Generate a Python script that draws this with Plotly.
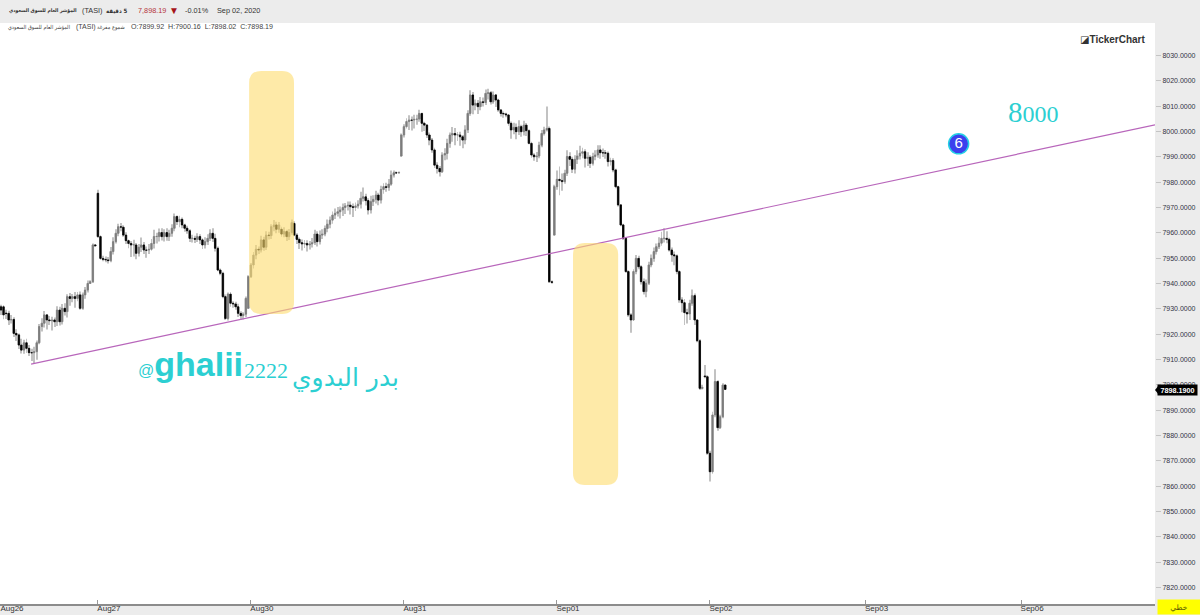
"""TASI 5 minute candles with trend line, recreated in Plotly"""

import numpy as np
import plotly.graph_objects as go

OPENS = [
    7930.8,7930.8,7928.3,7928.2,7925.6,7925.8,7920.3,7919.7,7915.7,7913.7,
    7916.6,7914.4,7912.7,7912.7,7913.1,7916.6,7923.0,7924.3,7927.6,7925.6,
    7925.3,7925.6,7924.9,7929.5,7924.9,7930.2,7928.9,7934.8,7934.1,7934.8,
    7934.1,7935.5,7930.2,7935.5,7937.4,7940.0,7940.7,7955.2,7975.6,7958.5,
    7949.9,7949.5,7949.3,7949.0,7952.6,7956.5,7959.8,7962.4,7962.2,7959.1,
    7956.9,7955.8,7955.2,7955.2,7951.9,7954.3,7955.2,7953.2,7953.2,7953.5,
    7955.8,7958.5,7958.5,7960.1,7958.5,7960.1,7958.5,7959.8,7961.8,7966.4,
    7964.4,7965.3,7963.1,7961.8,7960.8,7957.8,7957.8,7957.4,7958.5,7957.2,
    7955.2,7956.5,7957.8,7959.8,7957.8,7953.9,7945.3,7944.0,7934.8,7926.2,
    7935.8,7932.2,7931.9,7930.8,7928.2,7927.3,7927.9,7930.2,7942.7,7947.3,
    7951.2,7953.5,7953.2,7957.2,7954.3,7959.1,7958.9,7962.4,7963.1,7961.4,
    7961.4,7959.5,7960.5,7958.5,7960.1,7963.7,7959.1,7957.4,7956.1,7955.6,
    7955.8,7955.2,7955.6,7956.1,7959.5,7956.5,7959.1,7959.5,7961.7,7963.4,
    7965.0,7967.0,7967.7,7968.3,7969.0,7970.0,7970.6,7970.9,7970.3,7970.0,
    7970.6,7971.3,7973.6,7974.2,7972.7,7969.0,7972.3,7973.2,7974.9,7972.9,
    7977.1,7978.2,7977.9,7979.2,7982.8,7983.7,7983.7,7990.3,7998.6,8001.9,
    8003.9,8004.5,8004.5,8004.8,8004.9,8007.1,8003.2,8002.5,7998.6,7996.6,
    7992.7,7986.7,7985.4,7984.1,7990.7,7991.3,7995.3,7998.6,7999.2,7998.6,
    7998.6,7997.9,7996.6,8000.6,8007.1,8014.4,8010.4,8011.1,8009.8,8011.7,
    8011.4,8015.0,8015.3,8011.7,8014.4,8012.4,8008.5,8007.1,8006.9,8006.5,
    8003.2,8000.6,8001.6,7999.9,8001.9,7999.9,8002.5,8000.3,7995.3,7990.7,
    7990.0,7990.3,7994.6,7999.2,8000.6,8001.2,7940.7,7959.1,7978.2,7981.1,
    7980.6,7980.2,7983.5,7990.1,7989.0,7985.1,7989.0,7990.3,7991.4,7992.0,
    7989.4,7989.8,7987.4,7990.1,7990.7,7992.7,7991.6,7991.6,7991.4,7988.1,
    7988.5,7984.8,7978.2,7971.0,7963.1,7957.8,7944.7,7927.6,7925.6,7944.7,
    7949.9,7946.6,7940.7,7936.8,7940.1,7947.3,7949.9,7952.6,7954.5,7955.9,
    7957.8,7957.8,7957.4,7953.2,7951.3,7950.9,7944.7,7933.5,7932.4,7928.5,
    7928.0,7932.2,7935.2,7925.6,7917.4,7898.6,7903.5,7903.2,7873.0,7865.7,
    7888.1,7901.3,7883.1,7887.4,7899.92,
]
CLOSES = [
    7929.5,7927.6,7928.1,7925.6,7925.8,7920.3,7919.7,7915.7,7913.7,7916.6,
    7914.4,7912.7,7912.6,7913.1,7916.6,7923.0,7924.3,7927.6,7925.6,7925.3,
    7925.6,7924.9,7929.5,7924.9,7930.2,7928.9,7934.8,7934.1,7934.8,7934.1,
    7935.5,7930.2,7935.5,7937.4,7940.0,7940.7,7955.2,7954.9,7958.5,7949.9,
    7949.5,7949.3,7949.0,7952.6,7956.5,7959.8,7962.4,7962.2,7959.1,7956.9,
    7955.8,7955.2,7955.3,7951.9,7954.3,7955.2,7953.2,7953.1,7953.5,7955.8,
    7958.5,7958.6,7960.1,7958.5,7960.1,7958.5,7959.8,7961.8,7966.4,7964.4,
    7965.3,7963.1,7961.8,7960.8,7957.8,7957.9,7957.4,7958.5,7957.2,7955.2,
    7956.5,7957.8,7959.8,7957.8,7953.9,7945.3,7944.0,7934.8,7926.2,7935.8,
    7932.2,7931.9,7930.8,7928.2,7927.3,7927.9,7934.1,7942.7,7947.3,7951.2,
    7953.5,7953.2,7957.2,7954.3,7959.1,7958.9,7962.4,7963.1,7961.4,7963.1,
    7959.5,7960.5,7958.5,7960.1,7964.0,7959.1,7957.4,7956.1,7955.6,7955.8,
    7955.2,7955.6,7956.1,7959.5,7956.5,7959.1,7959.5,7961.7,7963.4,7965.0,
    7967.0,7967.7,7968.3,7969.0,7970.0,7970.6,7970.9,7970.3,7970.0,7970.6,
    7971.3,7973.6,7974.2,7972.7,7969.0,7972.3,7973.2,7974.9,7972.9,7977.1,
    7978.2,7977.9,7979.2,7982.8,7983.7,7983.6,7983.8,7998.6,8001.9,8003.9,
    8004.5,8004.4,8004.8,8004.9,8007.1,8003.2,8002.5,7998.6,7996.6,7992.7,
    7986.7,7985.4,7984.1,7990.7,7991.3,7995.3,7998.6,7999.2,7998.6,7998.7,
    7997.9,7996.6,8000.6,8007.1,8014.4,8010.4,8011.1,8009.8,8011.7,8011.4,
    8015.0,8015.3,8011.7,8014.4,8012.4,8008.5,8007.1,8006.9,8006.5,8003.2,
    8000.6,8001.6,7999.9,8001.9,7999.9,8002.5,8000.3,7995.3,7990.7,7990.0,
    7990.3,7994.6,7999.2,8000.6,8001.2,7940.7,7940.4,7978.2,7981.1,7980.6,
    7980.2,7983.5,7990.1,7989.0,7985.1,7989.0,7990.3,7991.4,7992.0,7989.4,
    7989.8,7987.4,7990.1,7990.7,7992.7,7991.6,7991.5,7991.4,7988.1,7988.5,
    7984.8,7978.2,7971.0,7963.1,7957.8,7944.7,7927.6,7925.6,7944.7,7949.9,
    7946.6,7940.7,7936.8,7940.1,7947.3,7949.9,7952.6,7954.5,7955.9,7957.8,
    7957.9,7957.4,7953.2,7951.3,7950.9,7944.7,7933.5,7932.4,7928.5,7928.0,
    7932.2,7935.2,7925.6,7917.4,7898.6,7899.0,7903.2,7873.0,7865.7,7888.1,
    7901.3,7883.1,7887.4,7899.9,7898.19,
]
HIGHS = [
    7931.6,7931.4,7929.6,7929.2,7927.6,7926.7,7921.9,7920.3,7918.2,7917.8,
    7918.2,7915.7,7914.2,7915.0,7917.5,7924.0,7926.3,7929.1,7928.0,7927.2,
    7926.9,7926.6,7931.0,7930.8,7931.9,7932.2,7935.7,7936.2,7935.8,7936.6,
    7936.6,7936.8,7936.4,7938.6,7941.2,7941.3,7955.8,7955.6,7977.0,7959.0,
    7950.9,7950.6,7950.4,7954.4,7958.2,7961.4,7963.6,7963.9,7963.0,7960.2,
    7957.4,7956.8,7957.3,7956.0,7955.6,7958.1,7956.4,7954.6,7955.6,7957.6,
    7961.2,7960.0,7961.7,7961.8,7961.4,7961.8,7961.2,7963.4,7967.6,7966.8,
    7966.7,7966.0,7963.6,7962.8,7961.4,7959.2,7958.8,7959.8,7959.4,7957.8,
    7958.2,7959.4,7961.4,7961.8,7959.6,7954.6,7945.9,7944.6,7935.6,7936.4,
    7936.6,7933.0,7932.8,7932.0,7929.0,7928.6,7934.9,7943.2,7948.1,7952.4,
    7955.2,7954.6,7958.8,7958.4,7960.6,7960.4,7963.4,7965.1,7964.4,7964.3,
    7962.4,7962.2,7961.2,7961.5,7965.2,7964.6,7959.8,7958.1,7957.4,7957.2,
    7957.1,7956.8,7957.9,7961.2,7960.6,7960.9,7961.4,7962.9,7965.2,7966.4,
    7968.4,7969.6,7970.2,7970.4,7971.6,7971.8,7972.4,7972.4,7971.6,7972.0,
    7972.8,7976.2,7977.9,7975.4,7973.6,7974.6,7974.8,7976.6,7975.8,7978.6,
    7979.6,7979.8,7981.2,7984.6,7984.6,7984.2,7984.2,7999.2,8002.8,8005.2,
    8006.4,8005.9,8006.6,8006.6,8008.6,8007.4,8003.8,8002.9,7999.6,7997.4,
    7993.6,7987.8,7986.4,7991.8,7993.4,7997.1,7999.6,8001.8,8001.4,7999.8,
    7999.9,7998.6,8002.4,8008.4,8016.3,8015.6,8012.6,8012.4,8013.6,8013.4,
    8016.6,8016.9,8016.0,8015.8,8014.8,8012.9,8008.8,8007.9,8007.4,8006.9,
    8003.9,8003.4,8003.1,8004.4,8002.6,8004.2,8003.3,8000.8,7995.9,7991.4,
    7991.9,7995.9,8000.6,8001.9,8009.8,8002.0,7941.2,7979.0,7984.6,7986.2,
    7983.4,7984.9,7992.6,7991.8,7990.0,7990.6,7992.6,7994.4,7993.6,7993.0,
    7991.8,7990.6,7991.6,7992.6,7994.6,7994.6,7993.3,7992.7,7992.1,7989.6,
    7989.4,7985.3,7978.6,7971.4,7963.6,7958.3,7945.2,7928.2,7945.6,7951.2,
    7950.9,7947.2,7942.0,7941.6,7948.6,7951.4,7954.2,7955.8,7958.2,7960.4,
    7961.8,7960.6,7958.0,7954.2,7952.6,7951.4,7945.2,7934.6,7933.9,7930.0,
    7933.6,7937.6,7936.0,7925.9,7918.0,7900.0,7907.8,7903.8,7874.0,7889.4,
    7906.1,7901.8,7888.2,7900.6,7900.16,
]
LOWS = [
    7927.6,7925.9,7926.0,7923.6,7924.2,7918.9,7917.3,7914.1,7912.4,7912.3,
    7912.6,7911.4,7909.4,7908.6,7909.9,7916.0,7921.0,7922.6,7921.8,7923.6,
    7921.4,7922.8,7923.2,7923.4,7923.8,7927.4,7926.6,7931.2,7932.6,7930.4,
    7933.0,7929.6,7929.6,7934.0,7936.4,7939.9,7940.2,7954.4,7958.0,7949.4,
    7948.8,7948.4,7947.9,7948.4,7951.4,7955.8,7958.6,7960.6,7958.4,7955.6,
    7953.9,7950.4,7950.6,7949.6,7950.6,7952.4,7951.6,7950.2,7951.6,7952.9,
    7953.8,7955.8,7956.6,7957.0,7956.6,7956.9,7956.8,7958.4,7960.6,7963.1,
    7962.2,7961.8,7960.4,7959.6,7956.4,7956.2,7956.0,7956.4,7955.6,7953.6,
    7953.8,7955.2,7956.8,7956.4,7952.6,7944.8,7943.2,7934.2,7925.6,7925.4,
    7930.8,7930.4,7929.6,7926.8,7925.6,7925.8,7926.8,7930.0,7942.2,7945.9,
    7949.6,7951.6,7952.2,7952.9,7953.2,7957.4,7957.6,7960.6,7959.8,7960.0,
    7958.4,7958.2,7956.8,7957.2,7959.2,7958.6,7955.6,7953.6,7953.0,7954.0,
    7952.6,7953.4,7954.2,7955.2,7954.6,7955.4,7957.6,7958.6,7960.2,7961.8,
    7963.6,7965.4,7966.4,7965.6,7966.6,7967.4,7968.8,7967.2,7966.2,7968.6,
    7969.6,7969.6,7972.4,7970.8,7967.2,7967.6,7970.6,7971.6,7970.9,7971.6,
    7975.4,7976.2,7976.6,7978.6,7981.8,7983.2,7983.3,7990.0,7997.6,8001.2,
    8000.6,8000.4,8001.2,8002.6,8003.8,7999.9,8000.2,7997.4,7994.6,7991.6,
    7985.6,7983.4,7982.2,7983.6,7988.6,7988.9,7993.6,7995.9,7994.6,7996.2,
    7994.4,7993.4,7994.9,7999.4,8006.2,8006.8,8008.4,8006.9,8008.4,8009.8,
    8010.4,8012.6,8010.6,8010.9,8009.6,8007.8,8005.9,8005.4,8005.6,8002.2,
    7997.1,7998.9,7996.9,7998.6,7997.9,7998.4,7998.2,7994.9,7989.6,7988.4,
    7987.9,7989.4,7993.8,7998.4,8000.0,7940.2,7939.9,7958.9,7977.0,7974.8,
    7976.6,7979.4,7982.4,7986.4,7983.6,7983.4,7987.2,7988.9,7989.4,7985.8,
    7986.4,7985.6,7986.6,7988.6,7989.6,7989.2,7989.9,7989.2,7986.2,7986.6,
    7983.9,7977.6,7970.4,7962.6,7957.2,7944.2,7926.9,7920.6,7925.2,7943.6,
    7945.6,7939.6,7935.6,7934.6,7939.4,7946.4,7948.6,7951.4,7953.6,7954.9,
    7956.2,7955.9,7952.6,7948.6,7947.2,7943.6,7932.4,7928.6,7923.6,7924.2,
    7925.6,7931.2,7923.6,7916.8,7898.0,7898.2,7902.6,7872.4,7861.8,7864.9,
    7887.2,7881.9,7882.6,7886.8,7898.02,
]

TICK_BARS = [0, 38, 98, 158, 218, 278, 339, 400]
TICK_LABELS = ['Aug26', 'Aug27', 'Aug30', 'Aug31', 'Sep01', 'Sep02', 'Sep03', 'Sep06']
PRICE_TICKS = list(range(7820, 8040, 10))

TREND_X = [11.8, 452.5]
TREND_Y = [7908.2, 8002.6]

# plot area inside the 1200x615 page
PLOT_W = 1155
PLOT_TOP = 23
PLOT_BOTTOM = 604
TEAL = '#2ccfd2'
SANS = 'Liberation Sans, DejaVu Sans, sans-serif'
ARABIC = 'DejaVu Sans Condensed, DejaVu Sans, sans-serif'


def px(x, y):
    """page pixels to paper coordinates, for the overlay texts"""
    return x / PLOT_W, (PLOT_BOTTOM - y) / (PLOT_BOTTOM - PLOT_TOP)


def label(fig, x, y, text, size=7.3, color='#333333', anchor='left', family=SANS, **kw):
    xp, yp = px(x, y)
    fig.add_annotation(x=xp, y=yp, xref='paper', yref='paper', text=text, showarrow=False,
                       xanchor=anchor, yanchor='middle', borderpad=0,
                       font=dict(size=size, color=color, family=family), **kw)


def round_box(x0, x1, y0, y1, rx, ry):
    """rounded rectangle path in bar / price coordinates"""
    return (f'M {x0+rx},{y1} L {x1-rx},{y1} Q {x1},{y1} {x1},{y1-ry} '
            f'L {x1},{y0+ry} Q {x1},{y0} {x1-rx},{y0} '
            f'L {x0+rx},{y0} Q {x0},{y0} {x0},{y0+ry} '
            f'L {x0},{y1-ry} Q {x0},{y1} {x0+rx},{y1} Z')


opens = np.array(OPENS)
closes = np.array(CLOSES)
highs = np.array(HIGHS)
lows = np.array(LOWS)
bars = np.arange(len(opens))
body_colors = ['#7d7d7d' if c >= o else '#000000' for o, c in zip(opens, closes)]

fig = go.Figure()

# wicks
fig.add_trace(go.Bar(x=bars, y=highs - lows, base=lows, width=0.36,
                     marker=dict(color='#c2c2c2', line_width=0), hoverinfo='skip'))
# bodies
fig.add_trace(go.Bar(x=bars, y=np.abs(closes - opens), base=np.minimum(opens, closes), width=0.6,
                     marker=dict(color=body_colors, line=dict(color=body_colors, width=0.8)),
                     customdata=np.stack([opens, highs, lows, closes], axis=1),
                     hovertemplate='O:%{customdata[0]} H:%{customdata[1]} L:%{customdata[2]} C:%{customdata[3]}<extra></extra>'))
# trend line
fig.add_trace(go.Scatter(x=TREND_X, y=TREND_Y, mode='lines', line=dict(color='#b866bb', width=1.2),
                         hoverinfo='skip'))
# wave count marker
fig.add_trace(go.Scatter(x=[375.5], y=[7995.1], mode='markers+text', text=['6'], textposition='middle center',
                         textfont=dict(color='white', size=15, family=SANS),
                         marker=dict(size=20, color='#3c40ee', line=dict(color='#25d0e4', width=1.5)),
                         hoverinfo='skip'))

# highlighted zones
fig.add_shape(type='path', xref='x', yref='y', line_width=0, fillcolor='rgba(253,220,110,0.6)',
              path=round_box(97.3, 114.9, 7928.0, 8023.9, 4.7, 4.7))
fig.add_shape(type='path', xref='x', yref='y', line_width=0, fillcolor='rgba(253,220,110,0.6)',
              path=round_box(224.3, 242.0, 7860.5, 7956.0, 4.7, 4.7))

fig.update_layout(
    width=1200, height=615, showlegend=False, barmode='overlay', hovermode='closest',
    paper_bgcolor='#ececec', plot_bgcolor='white',
    margin=dict(l=0, r=1200 - PLOT_W, t=PLOT_TOP, b=615 - PLOT_BOTTOM, pad=0),
    xaxis=dict(range=[-0.39, 452.5], tickmode='array', tickvals=TICK_BARS, ticktext=TICK_LABELS,
               automargin=False, ticks='inside', ticklen=4, tickcolor='#999999', ticklabelshift=11,
               ticklabelstandoff=-4, ticklabeloverflow='allow',
               tickfont=dict(size=8, color='#333333', family=SANS),
               showgrid=False, zeroline=False, showline=True, linecolor='#8c8c8c', linewidth=1.5),
    yaxis=dict(range=[7813.5, 8042.8], side='right', tickmode='array', tickvals=PRICE_TICKS,
               automargin=False, tickformat='.4f', ticks='outside', ticklen=5, tickcolor='#c4c4c4',
               tickfont=dict(size=7, color='#333344', family=SANS),
               showgrid=False, zeroline=False, showline=False),
)

# top info strip
label(fig, 8, 10, '<b>المؤشر العام للسوق السعودي</b>', size=5.1, family=ARABIC)
label(fig, 81, 10, '(TASI)')
label(fig, 129, 10, '<b>\u200f5 دقيقة</b>', size=6, anchor='right', family=ARABIC)
label(fig, 137, 10, '7,898.19', color='#b5343c')
label(fig, 174, 10, '▼', size=10, color='#a51419', anchor='center')
label(fig, 184, 10, '-0.01%')
label(fig, 216, 10, 'Sep 02, 2020')
label(fig, 7, 27, 'المؤشر العام للسوق السعودي', size=5.5, color='#444444', family=ARABIC)
label(fig, 75, 27, '(TASI)', size=7, color='#444444')
label(fig, 126, 27, 'شموع مفرغة', size=5.6, color='#444444', anchor='right', family=ARABIC)
label(fig, 130, 27, 'O:7899.92  H:7900.16  L:7898.02  C:7898.19', size=7.1, color='#444444')

# logo and hand written notes
label(fig, 1147, 39, '<b>◪TickerChart</b>', size=10, color='#333333', anchor='right')
label(fig, 1007, 112, '8<span style="font-size:24px">000</span>', size=29, color=TEAL,
      family='Liberation Serif, serif')
label(fig, 137, 364, '<span style="font-size:16px">@</span><b>ghalii</b>', size=34, color=TEAL)
label(fig, 243, 370, '2222', size=22, color=TEAL, family='Liberation Serif, serif')
label(fig, 400, 378, 'بدر البدوي', size=25, color=TEAL, anchor='right', family='DejaVu Sans')

# last price tag and chart type box
x0, y0 = px(1155, 390)
x1, y1 = px(1159, 385)
x2, y2 = px(1159, 395)
fig.add_shape(type='path', xref='paper', yref='paper', line_width=0, fillcolor='#000000',
              path=f'M {x0},{y0} L {x1},{y1} L {x2},{y2} Z')
label(fig, 1177.5, 390, '<b>7898.1900</b>', size=7.2, color='white', anchor='center',
      bgcolor='#000000', width=39, height=10)
label(fig, 1179, 607, 'خطي', size=7.5, color='#555500', anchor='center',
      bgcolor='#ffff00', width=42, height=14)

fig.write_html('out.html', config={'displayModeBar': False},
               post_script="document.body.style.margin='0';document.body.style.overflow='hidden';")
